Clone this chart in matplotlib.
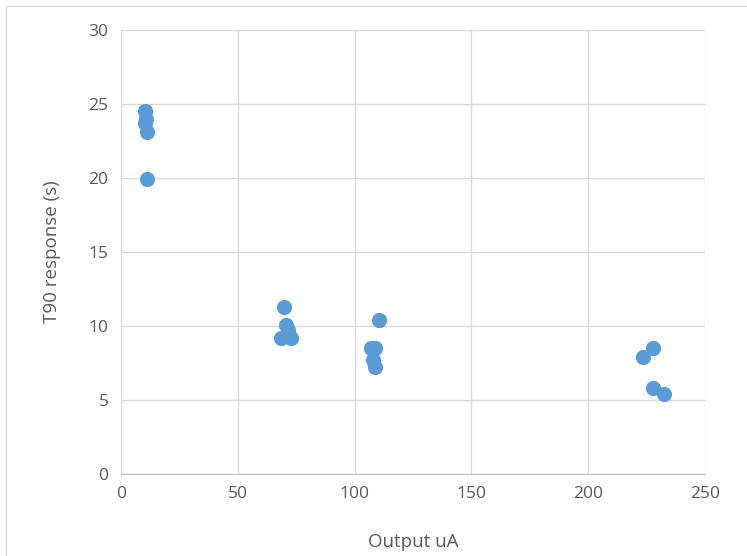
import matplotlib
matplotlib.use('Agg')
import matplotlib.pyplot as plt
from matplotlib.patches import Rectangle

# Data
output_ua = [10.2, 10.5, 10.3, 11.0, 11.1,
             69.8, 70.6, 71.5, 68.6, 72.8,
             110.4, 107.0, 108.7, 107.9, 108.7,
             223.5, 227.7, 227.7, 232.4]
t90_s = [24.5, 24.0, 23.7, 23.1, 19.9,
         11.3, 10.1, 9.7, 9.2, 9.2,
         10.4, 8.5, 8.5, 7.7, 7.2,
         7.9, 8.5, 5.8, 5.4]

X_TICKS = [0, 50, 100, 150, 200, 250]
Y_TICKS = [0, 5, 10, 15, 20, 25, 30]

BLUE = '#5B9BD5'
GRID = '#D9D9D9'
TEXT = '#595959'

plt.rcParams['font.family'] = ['Open Sans', 'DejaVu Sans']

W, H = 747, 556
fig = plt.figure(figsize=(W / 100, H / 100), dpi=100)
ax = fig.add_axes([121 / W, 1 - 474 / H, (705 - 121) / W, (474 - 30) / H])

ax.scatter(output_ua, t90_s, s=120, color=BLUE, zorder=3, linewidths=0)

ax.set_xlim(0, 250)
ax.set_ylim(0, 30)
ax.set_xticks(X_TICKS)
ax.set_yticks(Y_TICKS)
ax.grid(True, color=GRID, linewidth=1.0)
ax.set_axisbelow(True)
for side in ['top', 'right', 'left']:
    ax.spines[side].set_visible(False)
ax.spines['bottom'].set_color('#BFBFBF')
ax.tick_params(length=0, labelsize=12.5, colors=TEXT, pad=9)

ax.set_xlabel('Output uA', fontsize=13.5, color=TEXT, labelpad=22)
ax.set_ylabel('T90 response (s)', fontsize=13.5, color=TEXT, labelpad=20)

# light outer chart border
fig.patches.append(Rectangle((6 / W, -0.01), 1.0, 1 - 6 / H + 0.01,
                             transform=fig.transFigure, fill=False,
                             edgecolor='#D9D9D9', linewidth=1.0))

fig.savefig('out.png', dpi=100)
